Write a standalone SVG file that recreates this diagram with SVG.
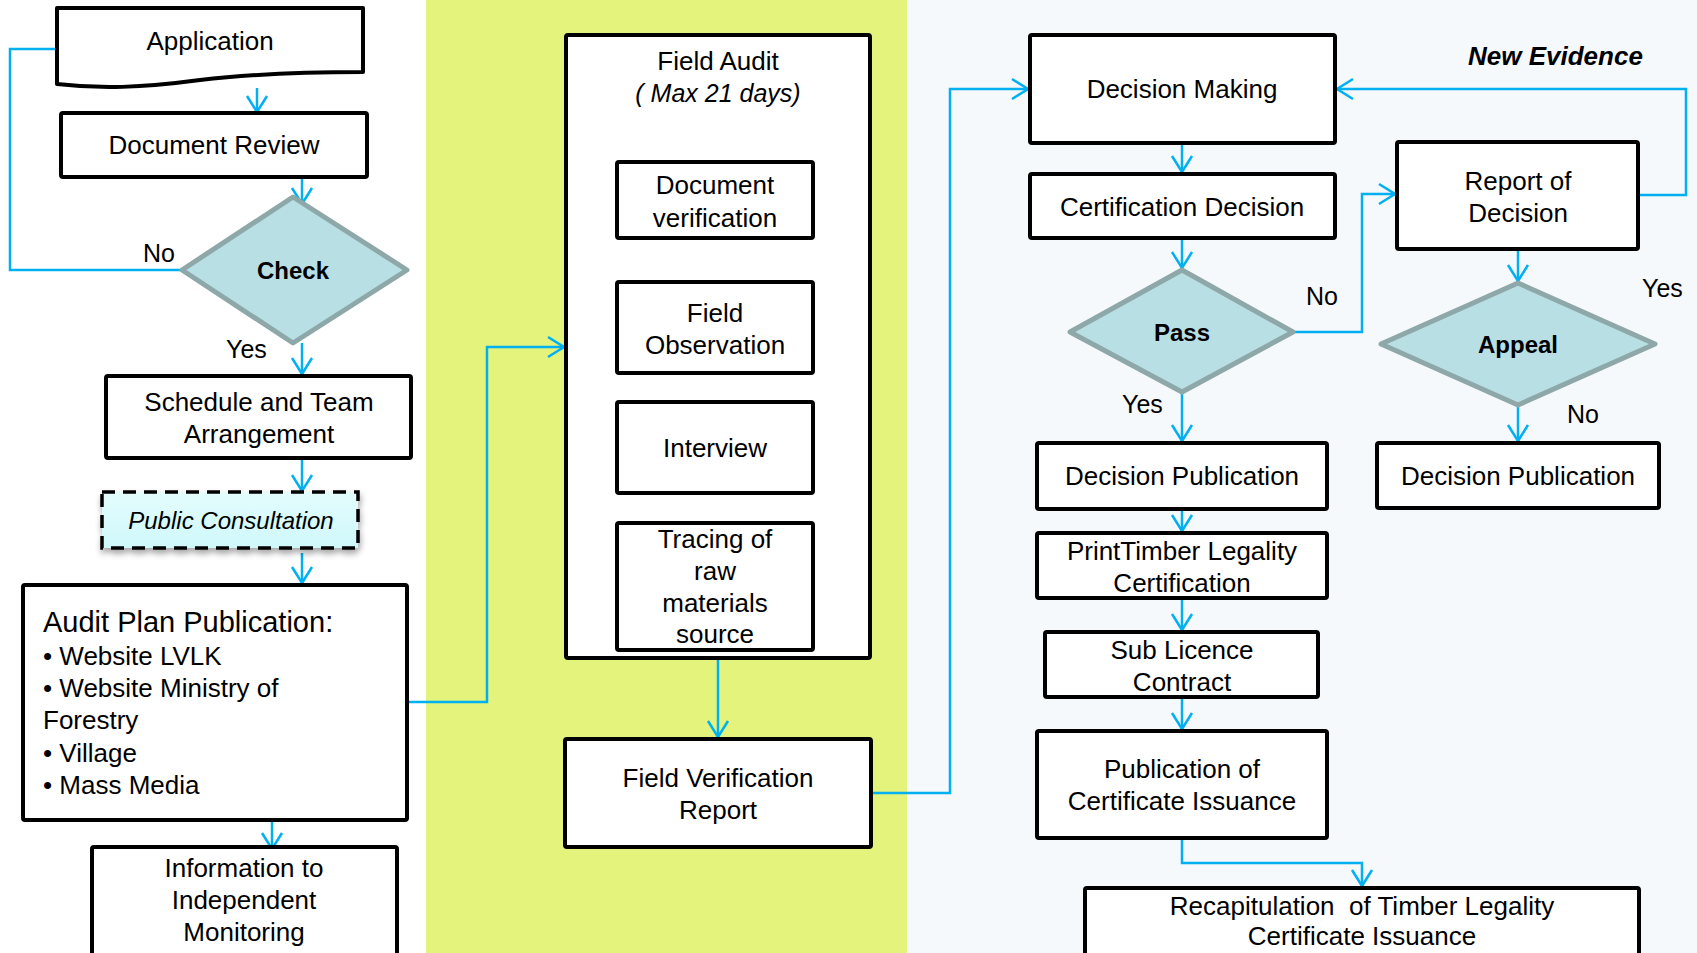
<svg xmlns="http://www.w3.org/2000/svg" width="1697" height="953" viewBox="0 0 1697 953">
<defs>
<style>
text{font-family:"Liberation Sans",Arial,sans-serif;fill:#000;}
.t{font-size:26px;text-anchor:middle;}
.lbl{font-size:25px;}
.dt{font-size:24px;font-weight:bold;text-anchor:middle;}
.box{fill:#fff;stroke:#000;stroke-width:4;}
.dia{fill:#b8dfe3;stroke:#8ea8aa;stroke-width:5;stroke-linejoin:round;}
.con{fill:none;stroke:#00b0f0;stroke-width:2.5;}
.arr{marker-end:url(#ah);}
</style>
<marker id="ah" viewBox="-18 -12 20 24" refX="0" refY="0" markerWidth="20" markerHeight="24" markerUnits="userSpaceOnUse" orient="auto">
<path d="M-16,-10 L0,0 L-16,10" fill="none" stroke="#00b0f0" stroke-width="2.5"/>
</marker>
<linearGradient id="pcg" x1="0" y1="0" x2="0" y2="1">
<stop offset="0" stop-color="#e4fdfd"/>
<stop offset="1" stop-color="#cff8fb"/>
</linearGradient>
<filter id="sh" x="-10%" y="-20%" width="120%" height="150%">
<feDropShadow dx="1" dy="4" stdDeviation="3" flood-color="#000" flood-opacity="0.35"/>
</filter>
</defs>

<g id="background">
<rect x="0" y="0" width="426" height="953" fill="#ffffff"/>
<rect x="426" y="0" width="481" height="953" fill="#e3f37b"/>
<rect x="907" y="0" width="790" height="953" fill="#f6f9fb"/>
</g>

<g id="connectors">
<path class="con arr" d="M257,88 V112"/>
<path class="con arr" d="M302,177 V204"/>
<path class="con" d="M182,270 H10 V49 H57"/>
<path class="con arr" d="M302,343 V374"/>
<path class="con arr" d="M302,458 V491"/>
<path class="con arr" d="M302,553 V583"/>
<path class="con arr" d="M272,820 V849"/>
<path class="con arr" d="M407,702 H487 V347 H564"/>
<path class="con arr" d="M718,658 V737"/>
<path class="con arr" d="M871,793 H950 V89 H1028"/>
<path class="con arr" d="M1182,143 V172"/>
<path class="con arr" d="M1182,238 V268"/>
<path class="con arr" d="M1182,392 V441"/>
<path class="con arr" d="M1293,332 H1362 V194 H1395"/>
<path class="con arr" d="M1518,249 V281"/>
<path class="con arr" d="M1518,405 V441"/>
<path class="con arr" d="M1638,195 H1686 V89 H1337"/>
<path class="con arr" d="M1182,509 V531"/>
<path class="con arr" d="M1182,598 V630"/>
<path class="con arr" d="M1182,697 V729"/>
<path class="con arr" d="M1182,838 V863 H1362 V886"/>
</g>

<g id="n-application">
<path class="box" d="M57,8 H363 V72 C300,72 250,74 200,80 C140,88 100,89 57,84 Z" stroke-linejoin="round"/>
<text class="t" x="210" y="50">Application</text>
</g>

<g id="n-document-review">
<rect class="box" x="61" y="113" width="306" height="64" rx="2"/>
<text class="t" x="214" y="154">Document Review</text>
</g>

<g id="n-check">
<polygon class="dia" points="293,197 407,270 293,343 182,270"/>
<text class="dt" x="293" y="279">Check</text>
<text class="lbl" x="143" y="262">No</text>
<text class="lbl" x="226" y="358">Yes</text>
</g>

<g id="n-schedule">
<rect class="box" x="106" y="376" width="305" height="82" rx="2"/>
<text class="t" x="259" y="411">Schedule and Team</text>
<text class="t" x="259" y="443">Arrangement</text>
</g>

<g id="n-public-consultation">
<rect x="102" y="492" width="256" height="56" fill="url(#pcg)" stroke="#000" stroke-width="3.5" stroke-dasharray="13,8" filter="url(#sh)"/>
<text x="231" y="529" font-size="24" font-style="italic" text-anchor="middle">Public Consultation</text>
</g>

<g id="n-audit-plan">
<rect class="box" x="23" y="585" width="384" height="235" rx="2"/>
<text x="43" y="632" font-size="29">Audit Plan Publication:</text>
<text x="43" y="665" font-size="26">• Website LVLK</text>
<text x="43" y="697" font-size="26">• Website Ministry of</text>
<text x="43" y="729" font-size="26">Forestry</text>
<text x="43" y="762" font-size="26">• Village</text>
<text x="43" y="794" font-size="26">• Mass Media</text>
</g>

<g id="n-information">
<rect class="box" x="92" y="847" width="305" height="120" rx="2"/>
<text class="t" x="244" y="877">Information to</text>
<text class="t" x="244" y="909">Independent</text>
<text class="t" x="244" y="941">Monitoring</text>
</g>

<g id="n-field-audit">
<rect class="box" x="566" y="35" width="304" height="623" rx="2"/>
<text class="t" x="718" y="70">Field Audit</text>
<text x="718" y="102" font-size="25" font-style="italic" text-anchor="middle">( Max 21 days)</text>
</g>

<g id="n-document-verification">
<rect class="box" x="617" y="162" width="196" height="76" rx="2"/>
<text class="t" x="715" y="194">Document</text>
<text class="t" x="715" y="227">verification</text>
</g>

<g id="n-field-observation">
<rect class="box" x="617" y="282" width="196" height="91" rx="2"/>
<text class="t" x="715" y="322">Field</text>
<text class="t" x="715" y="354">Observation</text>
</g>

<g id="n-interview">
<rect class="box" x="617" y="402" width="196" height="91" rx="2"/>
<text class="t" x="715" y="457">Interview</text>
</g>

<g id="n-tracing">
<rect class="box" x="617" y="523" width="196" height="127" rx="2"/>
<text class="t" x="715" y="548">Tracing of</text>
<text class="t" x="715" y="580">raw</text>
<text class="t" x="715" y="612">materials</text>
<text class="t" x="715" y="643">source</text>
</g>

<g id="n-field-verification-report">
<rect class="box" x="565" y="739" width="306" height="108" rx="2"/>
<text class="t" x="718" y="787">Field Verification</text>
<text class="t" x="718" y="819">Report</text>
</g>

<g id="n-decision-making">
<rect class="box" x="1030" y="35" width="305" height="108" rx="2"/>
<text class="t" x="1182" y="98">Decision Making</text>
</g>

<g id="n-new-evidence">
<text x="1468" y="65" font-size="26" font-weight="bold" font-style="italic">New Evidence</text>
</g>

<g id="n-certification-decision">
<rect class="box" x="1030" y="174" width="305" height="64" rx="2"/>
<text class="t" x="1182" y="216">Certification Decision</text>
</g>

<g id="n-pass">
<polygon class="dia" points="1182,270 1293,332 1182,392 1070,332"/>
<text class="dt" x="1182" y="341">Pass</text>
<text class="lbl" x="1306" y="305">No</text>
<text class="lbl" x="1122" y="413">Yes</text>
</g>

<g id="n-report-of-decision">
<rect class="box" x="1397" y="142" width="241" height="107" rx="2"/>
<text class="t" x="1518" y="190">Report of</text>
<text class="t" x="1518" y="222">Decision</text>
</g>

<g id="n-appeal">
<polygon class="dia" points="1518,283 1655,344 1518,405 1381,344"/>
<text class="dt" x="1518" y="353">Appeal</text>
<text class="lbl" x="1642" y="297">Yes</text>
<text class="lbl" x="1567" y="423">No</text>
</g>

<g id="n-decision-publication-2">
<rect class="box" x="1377" y="443" width="282" height="65" rx="2"/>
<text class="t" x="1518" y="485">Decision Publication</text>
</g>

<g id="n-decision-publication-1">
<rect class="box" x="1037" y="443" width="290" height="66" rx="2"/>
<text class="t" x="1182" y="485">Decision Publication</text>
</g>

<g id="n-print-timber">
<rect class="box" x="1037" y="533" width="290" height="65" rx="2"/>
<text class="t" x="1182" y="560">PrintTimber Legality</text>
<text class="t" x="1182" y="592">Certification</text>
</g>

<g id="n-sub-licence">
<rect class="box" x="1045" y="632" width="273" height="65" rx="2"/>
<text class="t" x="1182" y="659">Sub Licence</text>
<text class="t" x="1182" y="691">Contract</text>
</g>

<g id="n-publication-certificate">
<rect class="box" x="1037" y="731" width="290" height="107" rx="2"/>
<text class="t" x="1182" y="778">Publication of</text>
<text class="t" x="1182" y="810">Certificate Issuance</text>
</g>

<g id="n-recapitulation">
<rect class="box" x="1085" y="888" width="554" height="80" rx="2"/>
<text class="t" x="1362" y="915" xml:space="preserve">Recapitulation  of Timber Legality</text>
<text class="t" x="1362" y="945">Certificate Issuance</text>
</g>
</svg>
